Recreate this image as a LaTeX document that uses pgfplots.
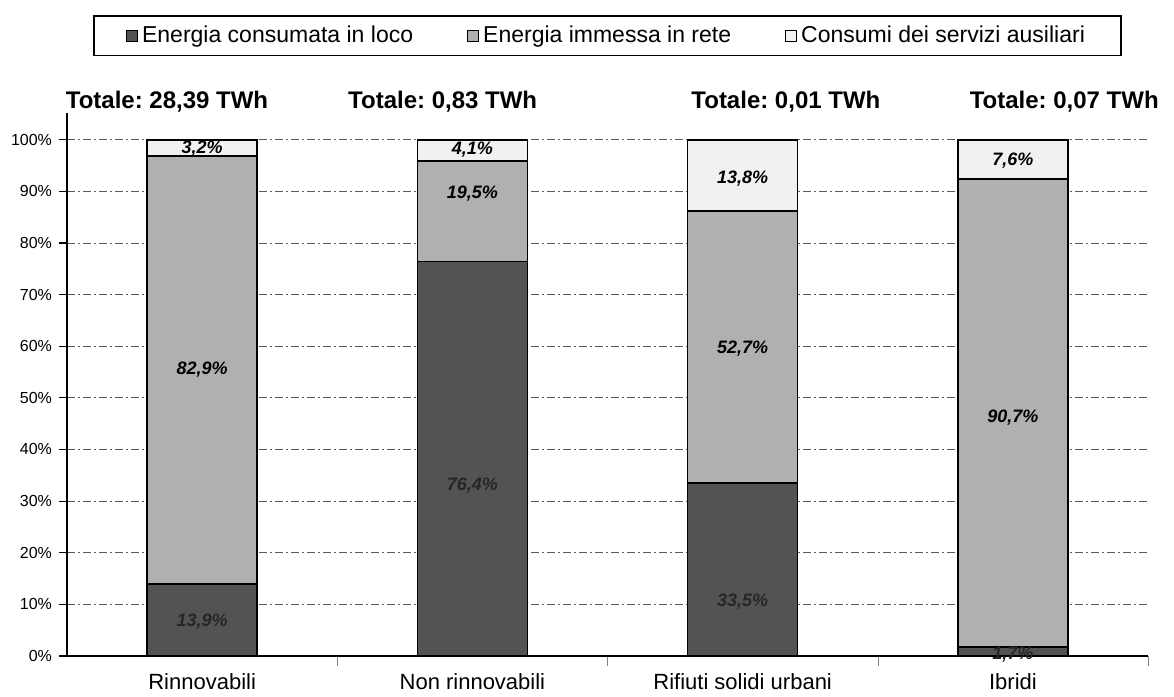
\documentclass[border=0pt]{standalone}
\usepackage{fontspec}
\setmainfont{Liberation Sans}
\usepackage{pgfplots}
\pgfplotsset{compat=1.18}
\definecolor{cDark}{HTML}{535353}
\definecolor{cMid}{HTML}{B0B0B0}
\definecolor{cLight}{HTML}{F1F1F1}
\tikzset{vlab/.style={font=\fontsize{9}{10}\selectfont\bfseries\itshape},
         tlab/.style={font=\fontsize{12}{14}\selectfont\bfseries}}
\frenchspacing
\begin{document}
\begin{tikzpicture}
\begin{axis}[
  scale only axis, width=540.5pt, height=271.5pt,
  xmin=-0.5, xmax=3.5, ymin=0, ymax=105.2,
  ybar stacked, bar width=55pt,
  axis lines*=left, axis line style={-, line width=0.8pt},
  clip=false,
  xtick={0,1,2,3},
  xticklabels={Rinnovabili, Non rinnovabili, Rifiuti solidi urbani, Ibridi},
  major x tick style={draw=none},
  minor xtick={0.5,1.5,2.5,3.5},
  minor tick length=5pt,
  tick align=outside,
  major tick length=4pt,
  ytick={0,10,...,100},
  yticklabel={\pgfmathprintnumber{\tick}\%},
  /pgf/number format/assume math mode=true,
  y tick style={black, line width=0.6pt},
  ymajorgrids, grid style={dash pattern=on 4pt off 1.5pt on 1pt off 1.5pt, black!65, line width=0.4pt},
  y tick label style={font=\fontsize{8}{10}\selectfont},
  x tick label style={font=\fontsize{11}{13}\selectfont, yshift=-1.5pt},
  legend columns=3,
  legend style={at={(0.5,1.142)}, anchor=center, draw=black, line width=0.7pt,
    font=\fontsize{11.5}{13}\selectfont, inner xsep=16pt, inner ysep=3pt,
    /tikz/every even column/.append style={column sep=25pt}},
  legend image code/.code={\draw[#1, line width=0.4pt] (0pt,-2.8pt) rectangle (5.6pt,2.8pt);},
]
\addplot[fill=cDark, draw=black, line width=0.8pt] coordinates {(0,13.9) (1,76.4) (2,33.5) (3,1.7)};
\addlegendentry{Energia consumata in loco}
\addplot[fill=cMid, draw=black, line width=0.8pt] coordinates {(0,82.9) (1,19.5) (2,52.7) (3,90.7)};
\addlegendentry{Energia immessa in rete}
\addplot[fill=cLight, draw=black, line width=0.8pt] coordinates {(0,3.2) (1,4.1) (2,13.8) (3,7.6)};
\addlegendentry{Consumi dei servizi ausiliari}

\coordinate (a1) at (axis cs:0,6.6);
\coordinate (a2) at (axis cs:0,55.4);
\coordinate (a3) at (axis cs:0,98.2);
\coordinate (b1) at (axis cs:1,33);
\coordinate (b2) at (axis cs:1,89.5);
\coordinate (b3) at (axis cs:1,98);
\coordinate (c1) at (axis cs:2,10.5);
\coordinate (c2) at (axis cs:2,59.5);
\coordinate (c3) at (axis cs:2,92.5);
\coordinate (d1) at (axis cs:3,0.3);
\coordinate (d2) at (axis cs:3,46.2);
\coordinate (d3) at (axis cs:3,96);

\node[tlab] at (axis cs:-0.13,107.3) {Totale: 28,39 TWh};
\node[tlab] at (axis cs:0.89,107.3) {Totale: 0,83 TWh};
\node[tlab] at (axis cs:2.16,107.3) {Totale: 0,01 TWh};
\node[tlab] at (axis cs:3.19,107.3) {Totale: 0,07 TWh};

\coordinate (bbA) at (rel axis cs:-0.062,-0.068);
\coordinate (bbB) at (rel axis cs:1.024,1.208);
\end{axis}
\node[vlab, black!85] at (a1) {13,9\%};
\node[vlab] at (a2) {82,9\%};
\node[vlab] at (a3) {3,2\%};
\node[vlab, black!85] at (b1) {76,4\%};
\node[vlab] at (b2) {19,5\%};
\node[vlab] at (b3) {4,1\%};
\node[vlab, black!85] at (c1) {33,5\%};
\node[vlab] at (c2) {52,7\%};
\node[vlab] at (c3) {13,8\%};
\node[vlab, black!85] at (d1) {1,7\%};
\node[vlab] at (d2) {90,7\%};
\node[vlab] at (d3) {7,6\%};
\path (bbA) rectangle (bbB);
\end{tikzpicture}
\end{document}
